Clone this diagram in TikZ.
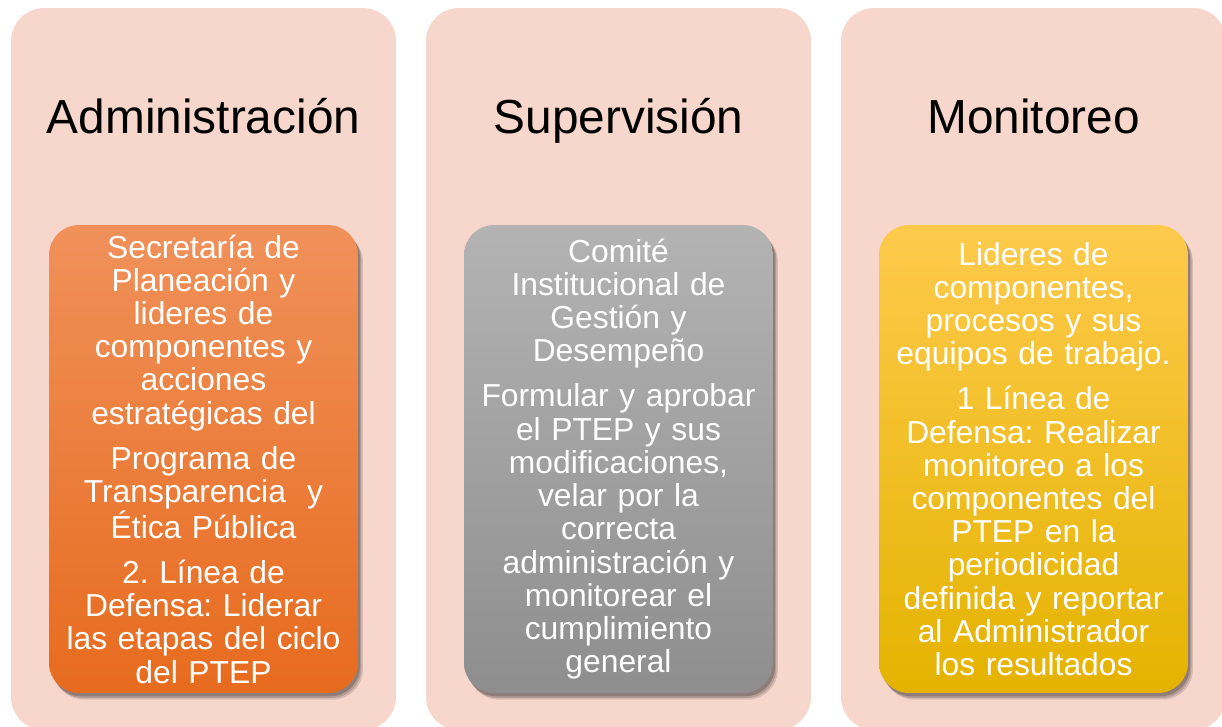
\documentclass[tikz,border=0pt]{standalone}
\usepackage{fontspec}
\setmainfont{Liberation Sans}
\frenchspacing
\usetikzlibrary{shadows}
\definecolor{rosa}{HTML}{F7D7CC}
\definecolor{naranjaarriba}{HTML}{F0915A}
\definecolor{naranja}{HTML}{F27A2E}
\definecolor{naranjaabajo}{HTML}{E76B1E}
\definecolor{grisarriba}{HTML}{B3B3B3}
\definecolor{grisabajo}{HTML}{8E8E8E}
\definecolor{amarilloarriba}{HTML}{FECA4C}
\definecolor{amarillo}{HTML}{FFC000}
\definecolor{amarilloabajo}{HTML}{E4B300}
\tikzset{
  panel/.style={fill=rosa,rounded corners=0.66cm,minimum width=7.7cm,
    minimum height=14.44cm,inner sep=0pt},
  paneltitle/.style={anchor=base,inner sep=0pt,text=black,
    font=\fontsize{27.2}{30}\selectfont},
  card/.style={rounded corners=0.6cm,minimum width=6.18cm,minimum height=9.36cm,
    inner sep=0pt,align=center,text width=6cm,text=white,
    font=\fontsize{18.1}{18.9}\selectfont,
    drop shadow={shadow xshift=2.8pt,shadow yshift=-3.8pt,opacity=0.12,fill=black},
    drop shadow={shadow xshift=2pt,shadow yshift=-2.9pt,opacity=0.16,fill=black},
    drop shadow={shadow xshift=1.2pt,shadow yshift=-1.9pt,opacity=0.2,fill=black}},
  adminscard/.style={card,top color=naranjaarriba,middle color=naranja,bottom color=naranjaabajo},
  supercard/.style={card,top color=grisarriba,bottom color=grisabajo},
  monicard/.style={card,top color=amarilloarriba,middle color=amarillo,bottom color=amarilloabajo}
}
\begin{document}
\begin{tikzpicture}[x=0.02cm,y=-0.02cm]
\useasboundingbox (0,0) rectangle (1222,726);

\node[panel] (admpanel) at (203.5,369) {};
\node[panel] (suppanel) at (618.5,369) {};
\node[panel] (monpanel) at (1033.5,369) {};

\node[paneltitle] (admtitle) at (203.5,134) {Administración};
\node[paneltitle] (suptitle) at (618.5,134) {Supervisión};
\node[paneltitle] (montitle) at (1033.5,134) {Monitoreo};

\node[adminscard] (admcard) at (203.5,459) {Secretaría de\\Planeación y\\lideres de\\componentes y\\acciones\\estratégicas del\\[6.8pt]
Programa de\\Transparencia~ y\\Ética Pública\\[6.8pt]
2. Línea de\\Defensa: Liderar\\las etapas del ciclo\\del PTEP};
\node[supercard] (supcard) at (618.5,459) {Comité\\Institucional de\\Gestión y\\Desempeño\\[6.8pt]
Formular y aprobar\\el PTEP y sus\\modificaciones,\\velar por la\\correcta\\administración y\\monitorear el\\cumplimiento\\general};
\node[monicard] (moncard) at (1033.5,459) {Lideres de\\componentes,\\procesos y sus\\equipos de trabajo.\\[6.8pt]
1 Línea de\\Defensa: Realizar\\monitoreo a los\\componentes del\\PTEP en la\\periodicidad\\definida y reportar\\al Administrador\\los resultados};
\end{tikzpicture}
\end{document}
